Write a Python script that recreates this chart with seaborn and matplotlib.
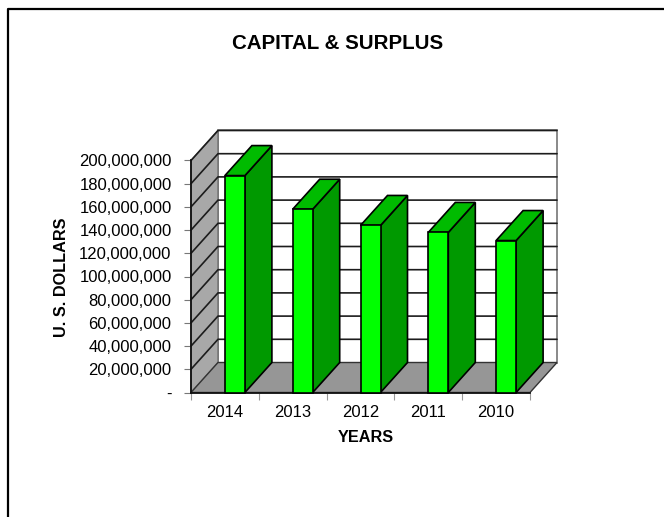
import matplotlib
matplotlib.use("Agg")
import matplotlib.pyplot as plt
from matplotlib.patches import Polygon
from matplotlib.lines import Line2D
import pandas as pd
import seaborn as sns

years = ["2014", "2013", "2012", "2011", "2010"]
capital_surplus = [187000000, 158000000, 144000000, 138000000, 131000000]
y_ticks = [0, 20000000, 40000000, 60000000, 80000000, 100000000,
           120000000, 140000000, 160000000, 180000000, 200000000]
y_labels = ["-", "20,000,000", "40,000,000", "60,000,000", "80,000,000", "100,000,000",
            "120,000,000", "140,000,000", "160,000,000", "180,000,000", "200,000,000"]

FRONT, SIDE, TOP = "#00FF00", "#009900", "#00BB00"
WALL, FLOOR, GRID = "#A8A8A8", "#969696", "#1C1C1C"
W, H = 664, 517
BAR_W = 0.295

sns.set_theme(style="white")
plt.rcParams["font.family"] = ["Liberation Sans", "DejaVu Sans"]

fig = plt.figure(figsize=(W / 100, H / 100), dpi=100)
ax = fig.add_axes([191 / W, (H - 392.5) / H, 339 / W, 232 / H])
ax.patch.set_alpha(0)

df = pd.DataFrame({"year": years, "value": capital_surplus})
sns.barplot(data=df, x="year", y="value", color=FRONT, saturation=1, width=BAR_W,
            edgecolor="black", linewidth=1.2, ax=ax, zorder=5)

ax.set_xlim(-0.5, 4.5)
ax.set_ylim(0, 200000000)

# Depth of the box, expressed in data units so every face stays on the axes' scales
dx = 27 / (339 / 5)
dy = 30 / (232 / 200000000)
x0, x1 = -0.5, 4.5
ymax = y_ticks[-1]

# Back wall, side wall and floor
ax.add_patch(Polygon([(x0 + dx, dy), (x1 + dx, dy), (x1 + dx, ymax + dy), (x0 + dx, ymax + dy)],
                     closed=True, fc="white", ec="#808080", lw=1.3, clip_on=False, zorder=1))
ax.add_patch(Polygon([(x0, 0), (x0 + dx, dy), (x0 + dx, ymax + dy), (x0, ymax)],
                     closed=True, fc=WALL, ec="#707070", lw=1, clip_on=False, zorder=1.5))
ax.add_patch(Polygon([(x0, 0), (x0 + dx, dy), (x1 + dx, dy), (x1, 0)],
                     closed=True, fc=FLOOR, ec="#333333", lw=1, clip_on=False, zorder=1.5))

# Gridlines run along the side wall and across the back wall
for t in y_ticks[1:]:
    ax.add_line(Line2D([x0, x0 + dx, x1 + dx], [t, t + dy, t + dy], color=GRID, lw=1.2,
                       clip_on=False, zorder=2))

# The front faces sit just right of each category centre; add side and top faces
for patch, v in zip(ax.patches, capital_surplus):
    if patch.get_height() != v:
        continue
    patch.set_x(patch.get_x() + BAR_W / 2)
    patch.set_clip_on(False)
    left = patch.get_x()
    right = left + BAR_W
    ax.add_patch(Polygon([(right, 0), (right + dx, dy), (right + dx, v + dy), (right, v)],
                         closed=True, fc=SIDE, ec="black", lw=1.2, clip_on=False, zorder=4))
    ax.add_patch(Polygon([(left, v), (left + dx, v + dy), (right + dx, v + dy), (right, v)],
                         closed=True, fc=TOP, ec="black", lw=1.2, clip_on=False, zorder=4))

# Axes, ticks and text
for s in ["top", "right"]:
    ax.spines[s].set_visible(False)
for s in ["left", "bottom"]:
    ax.spines[s].set_visible(True)
    ax.spines[s].set_color("#111111")
    ax.spines[s].set_linewidth(1.3)
    ax.spines[s].set_zorder(3)

ax.set_yticks(y_ticks, y_labels)
ax.tick_params(axis="y", left=True, length=5, width=0.8, color="#777777",
               labelsize=12, labelcolor="black", pad=9)
ax.set_xticks([i - 0.5 for i in range(6)], [""] * 6)
ax.set_xticks(range(5), years, minor=True)
ax.tick_params(axis="x", which="major", bottom=True, length=5, width=0.8, color="#999999")
ax.tick_params(axis="x", which="minor", bottom=False, length=0, labelsize=12,
               labelcolor="black", pad=9)

ax.set_xlabel("YEARS", fontsize=11.7, fontweight="bold", color="black")
ax.xaxis.set_label_coords((366 - 191) / 339, (392.5 - 437) / 232, transform=ax.transAxes)
ax.xaxis.label.set_verticalalignment("center")
ax.set_ylabel("U. S. DOLLARS", fontsize=11.7, fontweight="bold", color="black")
ax.yaxis.set_label_coords((61 - 191) / 339, (392.5 - 277) / 232, transform=ax.transAxes)
ax.yaxis.label.set_verticalalignment("center")
fig.text(338 / W, (H - 43.5) / H, "CAPITAL & SURPLUS", ha="center", va="center",
         fontsize=14.8, fontweight="bold", color="black")

# Outer frame, open on the right and bottom
fig.add_artist(Line2D([7.5 / W, 7.5 / W, 1], [0, (H - 9) / H, (H - 9) / H], color="black", lw=1.6))

fig.savefig("out.png", dpi=100, facecolor="white")
